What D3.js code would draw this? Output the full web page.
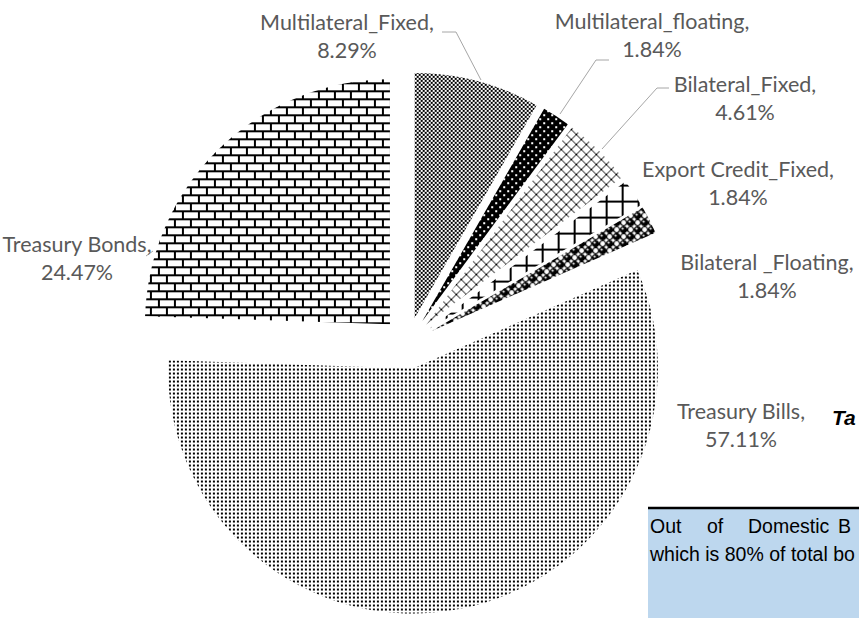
<!DOCTYPE html>
<html>
<head>
<meta charset="utf-8">
<script src="https://cdn.jsdelivr.net/npm/d3@7"></script>
<style>
  body { margin: 0; background: #fff; overflow: hidden; }
  .lbl { font-family: Lato, "Open Sans", sans-serif; font-size: 21.5px; fill: #595959; }
</style>
</head>
<body>
<div id="chart"></div>
<script>
var svgWidth = 859;
var svgHeight = 618;

// debt composition, clockwise from 12 o'clock
var categories = ["Multilateral_Fixed", "Multilateral_floating", "Bilateral_Fixed",
  "Export Credit_Fixed", "Bilateral _Floating", "Treasury Bills", "Treasury Bonds"];
var shares = [8.29, 1.84, 4.61, 1.84, 1.84, 57.11, 24.47];
var patternIds = ["pMF", "pMFl", "pBF", "pEC", "pBFl", "pTBill", "pTBond"];

// where each data label sits (center x, first baseline)
var labelPos = [[347, 30], [652, 29], [745, 92], [738, 177], [767, 270], [741, 419], [77, 252]];
// leader lines
var leaders = [
  [[442, 32], [456, 32], [481, 80]],
  [[609, 60], [596, 60], [560, 114]],
  [[669, 88], [657, 88], [602, 149]],
  [[146, 256], [153, 251]]
];

var cx = 408, cy = 343, radius = 245, explode = 26;

var svg = d3.select("#chart")
  .append("svg")
  .attr("width", svgWidth)
  .attr("height", svgHeight);

var defs = svg.append("defs");

function makePattern(id, w, h) {
  return defs.append("pattern")
    .attr("id", id)
    .attr("patternUnits", "userSpaceOnUse")
    .attr("width", w)
    .attr("height", h);
}

// small checker
var p = makePattern("pMF", 4, 4);
p.append("rect").attr("width", 4).attr("height", 4).attr("fill", "#fff");
p.append("rect").attr("width", 2).attr("height", 2).attr("fill", "#000");
p.append("rect").attr("x", 2).attr("y", 2).attr("width", 2).attr("height", 2).attr("fill", "#000");

// black with white dots
p = makePattern("pMFl", 8, 8);
p.append("rect").attr("width", 8).attr("height", 8).attr("fill", "#000");
p.append("rect").attr("x", 1).attr("y", 1).attr("width", 2).attr("height", 2).attr("fill", "#fff");
p.append("rect").attr("x", 5).attr("y", 5).attr("width", 2).attr("height", 2).attr("fill", "#fff");

// diagonal lattice
p = makePattern("pBF", 10, 10);
p.append("rect").attr("width", 10).attr("height", 10).attr("fill", "#fff");
d3.range(10).forEach(function(i) {
  p.append("rect").attr("x", i).attr("y", i).attr("width", 1).attr("height", 1).attr("fill", "#000");
  p.append("rect").attr("x", 9 - i).attr("y", i).attr("width", 1).attr("height", 1).attr("fill", "#000");
});

// large grid
p = makePattern("pEC", 16, 16);
p.append("rect").attr("width", 16).attr("height", 16).attr("fill", "#fff");
p.append("rect").attr("width", 16).attr("height", 2).attr("fill", "#000");
p.append("rect").attr("width", 2).attr("height", 16).attr("fill", "#000");

// spheres
p = makePattern("pBFl", 14, 14);
p.append("rect").attr("width", 14).attr("height", 14).attr("fill", "#fff");
[[3.5, 3.5], [10.5, 10.5]].forEach(function(c) {
  p.append("circle").attr("cx", c[0]).attr("cy", c[1]).attr("r", 3.6).attr("fill", "#000");
  p.append("circle").attr("cx", c[0] - 1).attr("cy", c[1] - 1).attr("r", 1.1).attr("fill", "#fff");
});
[[10.5, 3.5], [3.5, 10.5]].forEach(function(c) {
  p.append("circle").attr("cx", c[0]).attr("cy", c[1]).attr("r", 3).attr("fill", "none")
    .attr("stroke", "#000").attr("stroke-width", 1.2);
});

// fine dots
p = makePattern("pTBill", 4, 4);
p.append("rect").attr("width", 4).attr("height", 4).attr("fill", "#fff");
p.append("rect").attr("width", 2).attr("height", 2).attr("fill", "#000");

// bricks
p = makePattern("pTBond", 16, 16);
p.append("rect").attr("width", 16).attr("height", 16).attr("fill", "#fff");
p.append("rect").attr("y", 6).attr("width", 16).attr("height", 2).attr("fill", "#000");
p.append("rect").attr("y", 14).attr("width", 16).attr("height", 2).attr("fill", "#000");
p.append("rect").attr("x", 0).attr("y", 0).attr("width", 2).attr("height", 8).attr("fill", "#000");
p.append("rect").attr("x", 8).attr("y", 8).attr("width", 2).attr("height", 8).attr("fill", "#000");

var pie = d3.pie().sort(null).value(d => d);
var arc = d3.arc().innerRadius(0).outerRadius(radius);
var slices = pie(shares);

var pieGroup = svg.append("g")
  .attr("transform", `translate(${cx}, ${cy})`);

pieGroup.selectAll("path")
  .data(slices)
  .enter()
  .append("path")
  .attr("d", arc)
  .attr("fill", (d, i) => `url(#${patternIds[i]})`)
  .attr("transform", function(d) {
    var mid = (d.startAngle + d.endAngle) / 2;
    return `translate(${explode * Math.sin(mid)}, ${-explode * Math.cos(mid)})`;
  });

// leader lines
var line = d3.line();
svg.selectAll(".leader")
  .data(leaders)
  .enter()
  .append("path")
  .attr("class", "leader")
  .attr("d", line)
  .attr("fill", "none")
  .attr("stroke", "#a6a6a6")
  .attr("stroke-width", 1);

// data labels
var labels = svg.selectAll(".lbl")
  .data(categories)
  .enter()
  .append("text")
  .attr("class", "lbl")
  .attr("text-anchor", "middle")
  .attr("x", (d, i) => labelPos[i][0])
  .attr("y", (d, i) => labelPos[i][1]);

labels.append("tspan")
  .attr("x", (d, i) => labelPos[i][0])
  .text(d => d + ",");
labels.append("tspan")
  .attr("x", (d, i) => labelPos[i][0])
  .attr("dy", 28)
  .text((d, i) => shares[i].toFixed(2) + "%");

// caption at the right edge
svg.append("text")
  .attr("x", 832)
  .attr("y", 425)
  .attr("font-family", "Liberation Sans, Arial, sans-serif")
  .attr("font-size", 21)
  .attr("font-weight", "bold")
  .attr("font-style", "italic")
  .attr("fill", "#000")
  .text("Ta");

// text box (only the top edge shows a border)
var box = svg.append("g");
box.append("rect")
  .attr("x", 648)
  .attr("y", 508)
  .attr("width", 211)
  .attr("height", 110)
  .attr("fill", "#bdd7ee");
box.append("line")
  .attr("x1", 648)
  .attr("x2", 859)
  .attr("y1", 508)
  .attr("y2", 508)
  .attr("stroke", "#000")
  .attr("stroke-width", 2.5);

var boxWords = [["Out", 650], ["of", 707], ["Domestic", 748], ["B", 838]];
box.selectAll(".w1")
  .data(boxWords)
  .enter()
  .append("text")
  .attr("class", "w1")
  .attr("x", d => d[1])
  .attr("y", 533)
  .attr("font-family", "Liberation Sans, Arial, sans-serif")
  .attr("font-size", 19.5)
  .attr("fill", "#000")
  .text(d => d[0]);

box.append("text")
  .attr("x", 650)
  .attr("y", 561)
  .attr("font-family", "Liberation Sans, Arial, sans-serif")
  .attr("font-size", 19.5)
  .attr("fill", "#000")
  .text("which is 80% of total bo");
</script>
</body>
</html>
